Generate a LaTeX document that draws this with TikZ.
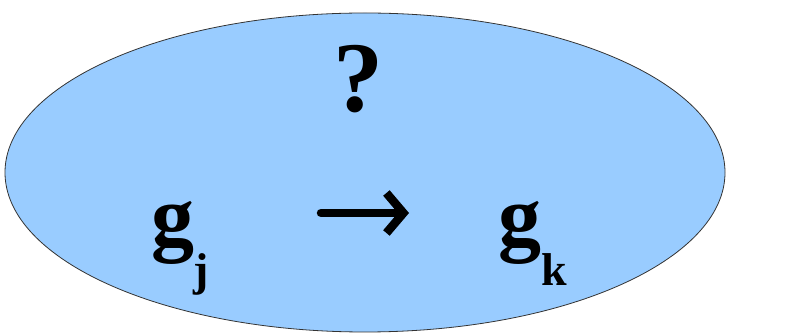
\documentclass[tikz,border=0pt]{standalone}
\usepackage{fontspec}
\setmainfont{Liberation Serif}
\usetikzlibrary{arrows.meta,shapes.geometric}
\begin{document}
\begin{tikzpicture}[x=1pt,y=1pt,
  lbl/.style={inner sep=0pt,font=\bfseries},
  big/.style={lbl,font=\bfseries\fontsize{86}{90}\selectfont},
  sub/.style={lbl,font=\bfseries\fontsize{46}{50}\selectfont}]
\useasboundingbox (0,0) rectangle (794,334);
\definecolor{ellfill}{HTML}{99CCFF}
\definecolor{ellline}{HTML}{333333}
\node[draw=ellline,fill=ellfill,line width=0.8pt,ellipse,minimum width=720pt,minimum height=319pt,inner sep=0pt] (ell) at (365,161.5) {};
\node[lbl,font=\bfseries\fontsize{100}{104}\selectfont,anchor=base] (q) at (358,222) {?};
\node[big,anchor=base west] (g1) at (151,88) {g};
\node[sub,anchor=base west] (j) at (193,48) {j};
\node[big,anchor=base west] (g2) at (498,88) {g};
\node[sub,anchor=base west] (k) at (541,48) {k};
\coordinate (a1) at (321,121);
\coordinate (a2) at (409,121);
\draw[line width=8.5pt,line cap=round,-{Straight Barb[length=17pt,width=40pt,line width=8.5pt]}] (a1) -- (a2);
\end{tikzpicture}
\end{document}
